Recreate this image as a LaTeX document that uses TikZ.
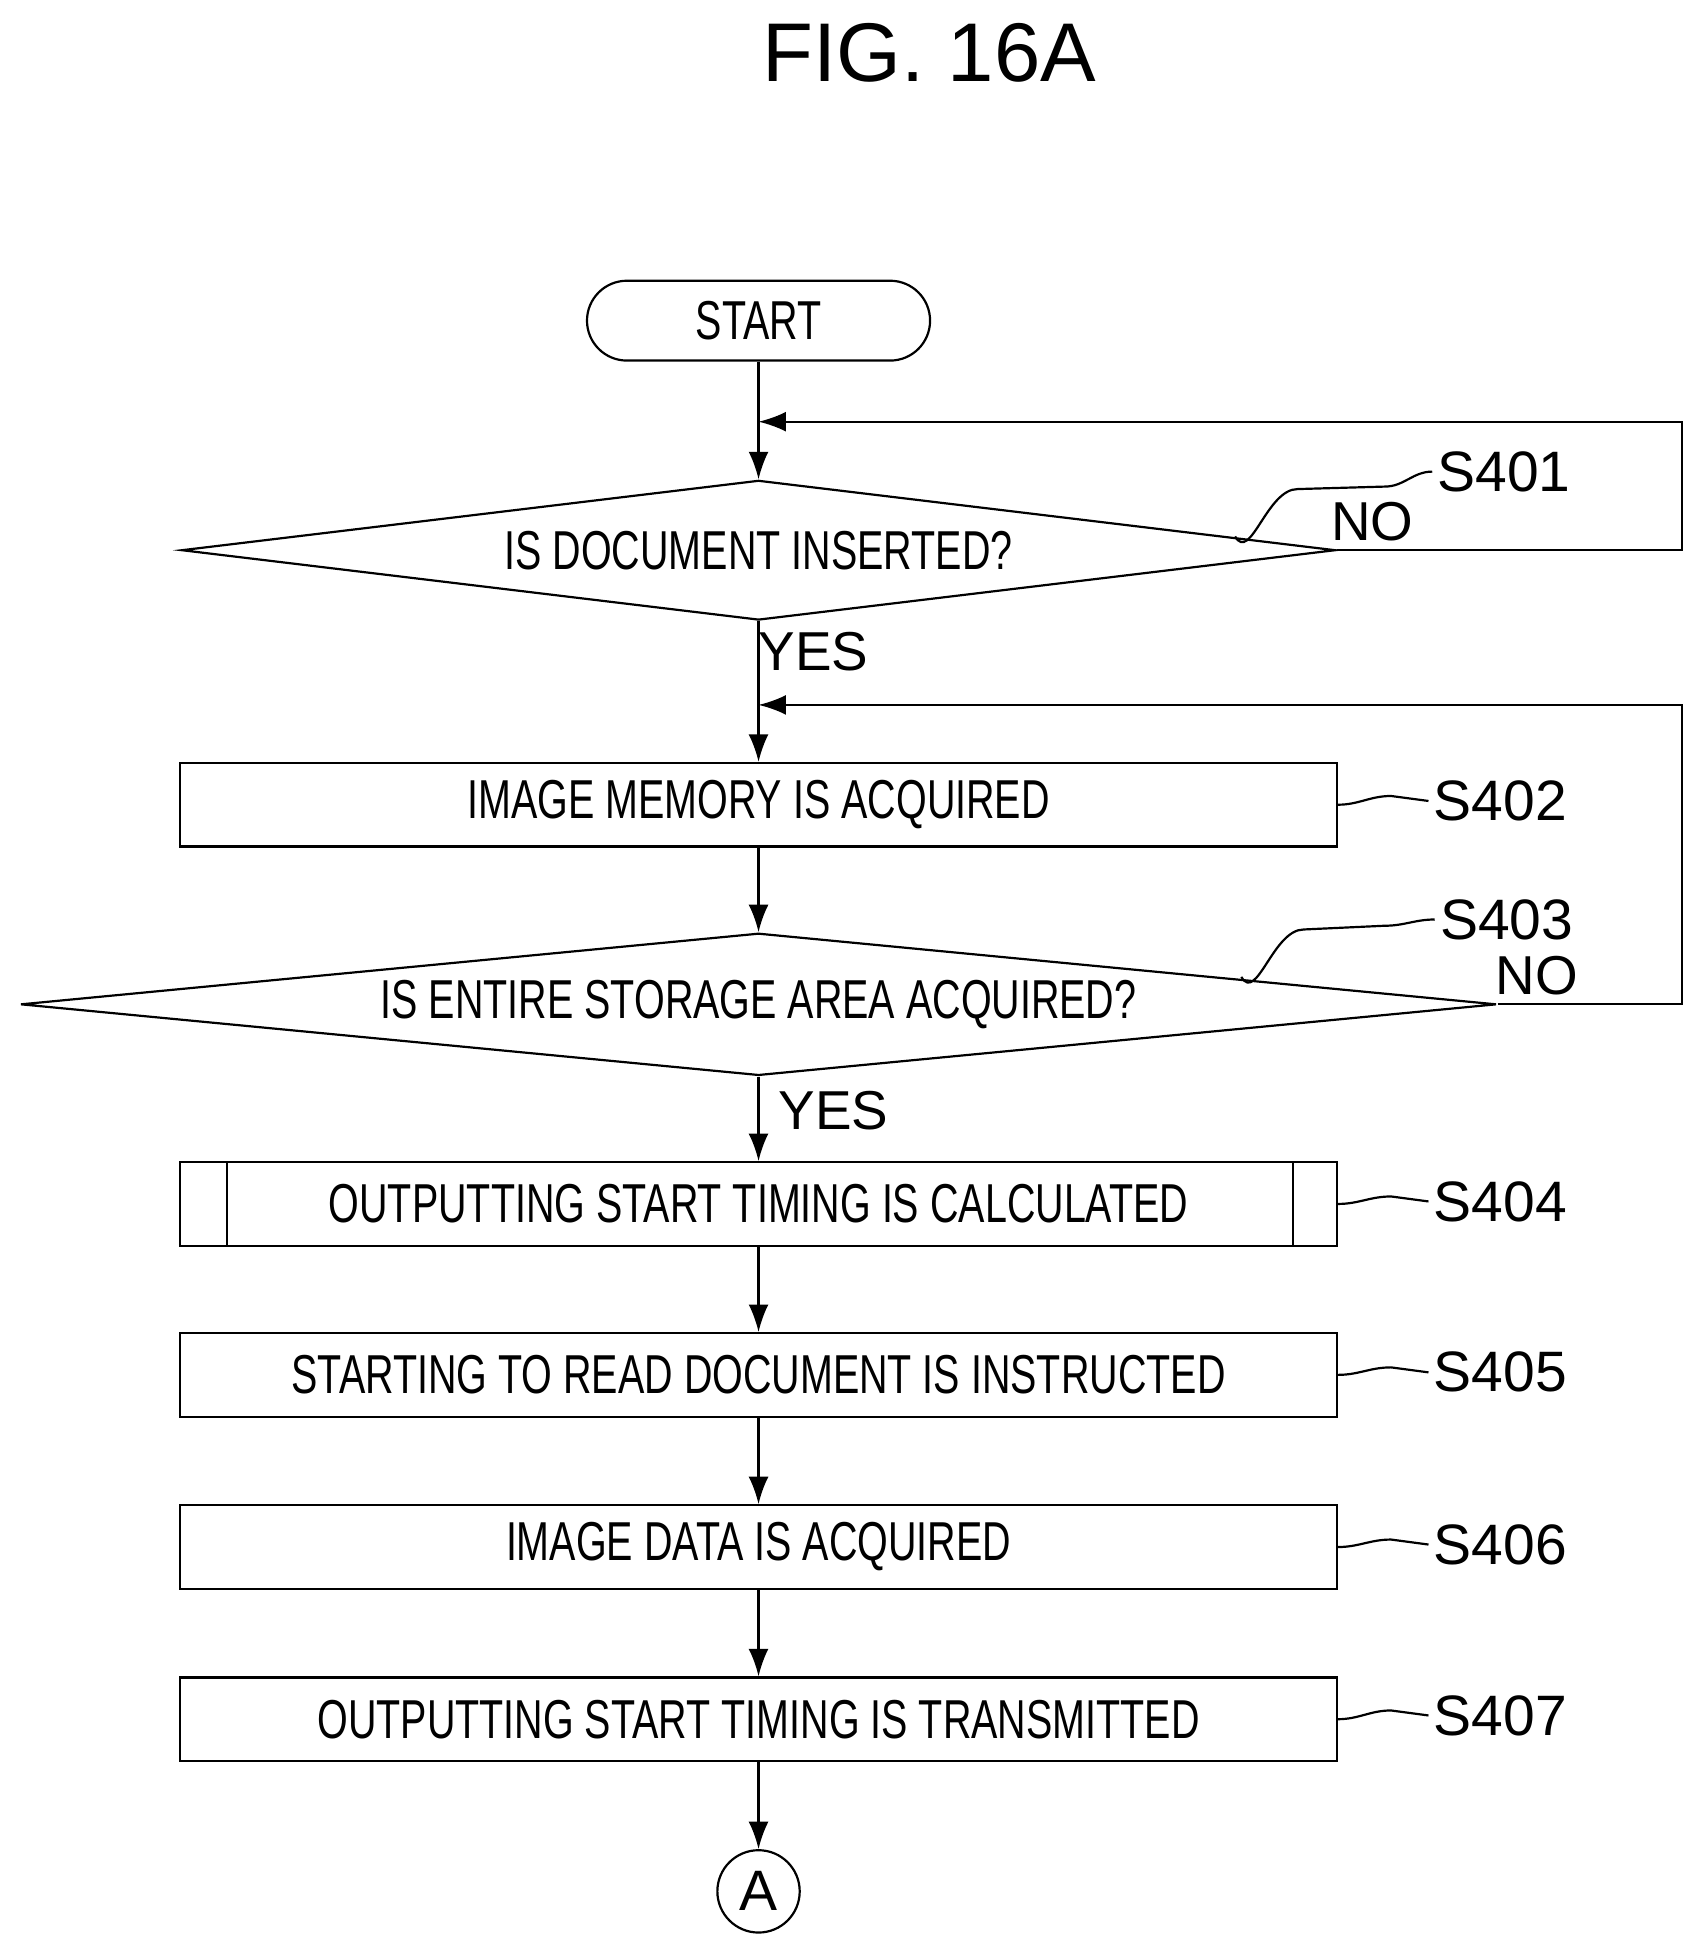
\documentclass[tikz,border=0pt]{standalone}
\usepackage{fontspec}
\setmainfont{Liberation Sans}
\newfontfamily\boxfont{Liberation Sans}[FakeStretch=0.72]
\usetikzlibrary{positioning, shapes.geometric, arrows.meta}

\begin{document}
\begin{tikzpicture}[
    x=0.1mm, y=-0.1mm,
    % Base styles
    basebox/.style={draw, line width=0.5pt, align=center, inner sep=0pt,
        font=\boxfont\fontsize{12.5}{14}\selectfont},
    % Terminal and process boxes
    termbox/.style={basebox, rectangle, rounded corners=3.2mm, minimum width=27.5mm, minimum height=6.4mm},
    processbox/.style={basebox, rectangle, minimum width=92.7mm, minimum height=6.7mm},
    % Decisions
    decision/.style={basebox, diamond, aspect=9, minimum height=#1},
    % Step labels and branch labels
    steplabel/.style={font=\fontsize{13}{15}\selectfont, inner sep=1pt},
    branch/.style={font=\fontsize{12.5}{14}\selectfont, inner sep=1pt},
    % Arrow style
    arrow/.style={-{Latex[length=2.2mm,width=1.6mm]}, line width=0.5pt},
    line/.style={line width=0.5pt},
]
\useasboundingbox (0,0) rectangle (1360,1559);

% Title
\node[font=\fontsize{19}{22}\selectfont] (title) at (745,42) {FIG. 16A};

% Flow nodes
\node[termbox] (start) at (608,257) {START};
\node[decision=11.2mm, minimum width=92.5mm] (d401) at (608,441) {IS DOCUMENT INSERTED?};
\node[processbox] (s402) at (608,645) {IMAGE MEMORY IS ACQUIRED};
\node[decision=11.4mm, minimum width=118.3mm] (d403) at (608,805) {IS ENTIRE STORAGE AREA ACQUIRED?};
\node[processbox] (s404) at (608,965) {OUTPUTTING START TIMING IS CALCULATED};
\draw[line] ([xshift=3.8mm]s404.north west) -- ([xshift=3.8mm]s404.south west);
\draw[line] ([xshift=-3.6mm]s404.north east) -- ([xshift=-3.6mm]s404.south east);
\node[processbox] (s405) at (608,1102) {STARTING TO READ DOCUMENT IS INSTRUCTED};
\node[processbox] (s406) at (608,1240) {IMAGE DATA IS ACQUIRED};
\node[processbox] (s407) at (608,1378) {OUTPUTTING START TIMING IS TRANSMITTED};
\node[draw, line width=0.5pt, circle, minimum size=6.6mm, inner sep=0pt,
      font=\fontsize{13}{15}\selectfont] (conA) at (608,1516) {A};

% Loop joints
\coordinate (j1) at (608,338);
\coordinate (j2) at (608,565);

% Main flow
\draw[line] (start) -- (j1);
\draw[arrow] (j1) -- (d401.north);
\draw[line] (d401.south) -- (j2);
\draw[arrow] (j2) -- (s402);
\draw[arrow] (s402) -- (d403.north);
\draw[arrow] (d403.south) -- (s404);
\draw[arrow] (s404) -- (s405);
\draw[arrow] (s405) -- (s406);
\draw[arrow] (s406) -- (s407);
\draw[arrow] (s407) -- (conA);

% NO loops
\draw[arrow] (d401.east) -- (1348,441) -- (1348,338) -- (j1);
\draw[arrow] (d403.east) -- (1348,805) -- (1348,565) -- (j2);

% Branch labels
\node[branch] (no401) at (1100,418) {NO};
\node[branch] (yes401) at (652,522) {YES};
\node[branch] (no403) at (1232,782) {NO};
\node[branch] (yes403) at (668,890) {YES};

% Step labels
\node[steplabel, anchor=west] (l401) at (1148,378) {S401};
\node[steplabel, anchor=west] (l402) at (1145,642) {S402};
\node[steplabel, anchor=west] (l403) at (1150,737) {S403};
\node[steplabel, anchor=west] (l404) at (1145,963) {S404};
\node[steplabel, anchor=west] (l405) at (1145,1100) {S405};
\node[steplabel, anchor=west] (l406) at (1145,1238) {S406};
\node[steplabel, anchor=west] (l407) at (1145,1375) {S407};

% Leader lines
\draw[line] (990,430) to[out=-60, in=180] (1040,392) -- (1110,390) to[out=0, in=180] (l401.west);
\draw[line] (995,783) to[out=-60, in=180] (1045,745) -- (1110,742) to[out=0, in=180] (l403.west);
\foreach \s in {402,404,405,406,407}
    \draw[line] (s\s.east) to[out=0, in=180] ([xshift=-3mm, yshift=0.4mm]l\s.west) -- (l\s.west);
\end{tikzpicture}
\end{document}
